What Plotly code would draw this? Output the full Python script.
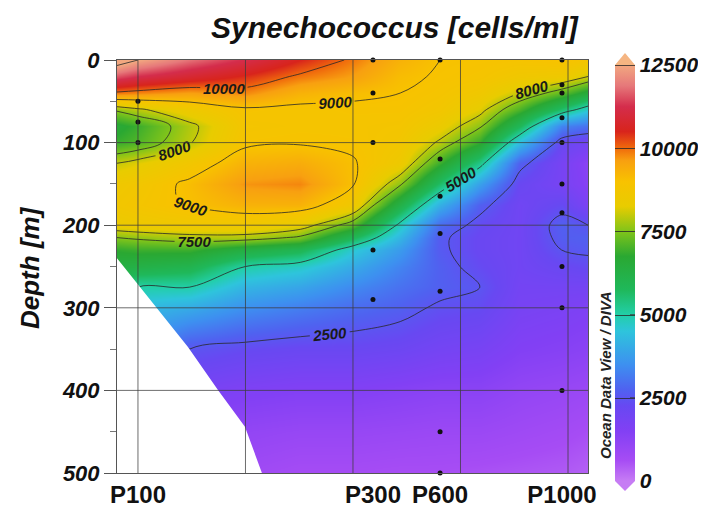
import plotly.graph_objects as go

# ---------------- data ----------------
title_text = "Synechococcus [cells/ml]"
station_names = ["P100", "P300", "P600", "P1000"]
station_dist = [100, 318.6, 381, 494.4]          # section distance (km)

# sample depths per station (black dots)
p100_depths = [50, 75, 100]
p300_depths = [0, 40, 100, 230, 290]
p600_depths = [0, 120, 165, 210, 280, 450, 500]
p1000_depths = [0, 30, 40, 70, 100, 150, 185, 250, 300, 400]

# gridded field (cells/ml) : one list per distance column, values at grid_depth
grid_dist = [80.5, 100, 148, 200, 251, 300, 344, 381, 418, 455, 494, 518.6]
grid_depth = [0, 20, 40, 60, 80, 100, 125, 150, 175, 200, 215, 230, 250, 275, 300, 350, 400, 450, 500]
col_080 = [13000, 11500, 9900, 7600, 6600, 6900, 8000, 8600, 8700, 8400, 7500, 6800, 6300, 5800, 5000, 4000, 3000, 2200, 1500]
col_100 = [12500, 11200, 9800, 7900, 6900, 7100, 8200, 8700, 8800, 8500, 7600, 6900, 6200, 5000, 4300, 3400, 2600, 2000, 1400]
col_148 = [11800, 10800, 9600, 8500, 7850, 7950, 8700, 9100, 9050, 8600, 7800, 6900, 6000, 5000, 4000, 2500, 1800, 1300, 1000]
col_200 = [11200, 10400, 9800, 8900, 8800, 8900, 9300, 9700, 9300, 8600, 7800, 6300, 5000, 4200, 3500, 2300, 1600, 1100, 800]
col_251 = [10500, 9900, 9300, 8850, 8850, 8950, 9400, 9800, 9300, 8300, 7400, 5900, 4700, 3900, 3200, 2200, 1500, 1000, 650]
col_300 = [9900, 9600, 9100, 8900, 8850, 8900, 9050, 9050, 8600, 7200, 5800, 4600, 4000, 3400, 2900, 2200, 1500, 1000, 650]
col_344 = [9300, 9100, 9000, 8900, 8800, 8700, 8500, 7600, 6200, 4800, 4200, 3700, 3300, 3000, 2700, 2100, 1400, 950, 600]
col_381 = [9000, 8950, 8850, 8700, 8400, 7900, 6900, 5600, 4100, 2900, 2600, 2600, 2700, 2700, 2400, 1900, 1300, 900, 600]
col_418 = [8950, 8850, 8600, 8200, 7600, 6800, 5300, 3800, 2700, 2300, 2200, 2200, 2300, 2500, 2300, 1800, 1300, 900, 550]
col_455 = [8900, 8600, 8000, 7000, 5800, 4300, 2700, 2200, 2000, 2000, 2000, 2000, 2000, 1900, 1800, 1500, 1100, 800, 500]
col_494 = [9000, 8500, 7200, 5500, 3300, 2200, 1800, 1800, 2300, 2700, 2650, 2500, 2200, 1900, 1700, 1400, 1000, 700, 450]
col_519 = [8800, 8000, 6500, 4600, 3000, 1900, 1300, 1400, 1700, 2500, 2700, 2600, 2300, 1900, 1600, 1300, 900, 600, 350]

# sea floor (white area, lower left)
bottom_dist = [70, 80.5, 146.5, 174.4, 199.5, 215.3, 215.3, 70]
bottom_depth = [240, 240, 347.5, 399.5, 444, 500, 520, 520]

cbar_ticks = [0, 2500, 5000, 7500, 10000, 12500]
depth_ticks = [0, 100, 200, 300, 400, 500]

# ---------------- figure ----------------
columns = [col_080, col_100, col_148, col_200, col_251, col_300, col_344,
           col_381, col_418, col_455, col_494, col_519]
z = [[col[i] for col in columns] for i in range(len(grid_depth))]

odv = [
    [0.00, "#c67cf4"], [0.05, "#a64cf4"], [0.12, "#8240f4"], [0.18, "#6848f2"],
    [0.22, "#4f62f0"], [0.28, "#3d90f0"], [0.36, "#2ec4dc"], [0.40, "#22cfa8"],
    [0.46, "#1fb85a"], [0.54, "#2aa832"], [0.60, "#80c41a"], [0.66, "#e8cc00"],
    [0.72, "#f8c200"], [0.77, "#f8a010"], [0.80, "#f06a0c"], [0.84, "#d8241c"],
    [0.90, "#d42d4c"], [0.95, "#e6787a"], [1.00, "#f2a880"],
]

FONT = "Liberation Sans, Arial, sans-serif"
# the page body has an 8px margin: the figure is sized/offset to compensate
OFF = 8
W, H = 706 - OFF, 510 - OFF
L, R, T, B = 117 - OFF, 118, 60 - OFF, 37
pw, ph = W - L - R, H - T - B

def px2x(p):          # reference page pixel -> paper x
    return (p - OFF - L) / pw

def py2y(p):          # reference page pixel -> paper y
    return (H - B - (p - OFF)) / ph

lab_font = dict(family=FONT, size=15, color="#1a1a1a", weight="bold", style="italic")
line_style = dict(color="rgba(40,40,40,0.8)", width=1, smoothing=1.0)

fig = go.Figure()

fig.add_trace(go.Contour(
    x=grid_dist, y=grid_depth, z=z,
    colorscale=odv, zmin=0, zmax=12500, zauto=False,
    autocontour=False,
    contours=dict(start=2500, end=12500, size=2500, coloring="heatmap",
                  showlabels=True, labelformat="d", labelfont=lab_font),
    line=line_style,
    colorbar=dict(
        x=px2x(615), xanchor="left", xpad=0,
        y=py2y(273), yanchor="middle", ypad=0,
        len=416, lenmode="pixels", thickness=20,
        outlinewidth=0, tickvals=cbar_ticks, tickformat="d",
        ticks="inside", ticklen=5, tickcolor="rgba(60,60,60,0.7)",
        tickfont=dict(family=FONT, size=21, color="#111",
                      weight="bold", style="italic"),
    ),
    hoverinfo="skip",
))

fig.add_trace(go.Contour(
    x=grid_dist, y=grid_depth, z=z,
    autocontour=False, showscale=False,
    contours=dict(start=8000, end=9000, size=1000, coloring="none",
                  showlabels=True, labelformat="d", labelfont=lab_font),
    line=line_style,
    hoverinfo="skip",
))

# sea floor mask
fig.add_trace(go.Scatter(
    x=bottom_dist, y=bottom_depth, mode="lines", fill="toself",
    fillcolor="white", line=dict(width=0, color="white"),
    hoverinfo="skip", showlegend=False,
))

# sample points
for name, d, depths in zip(station_names, station_dist,
                           [p100_depths, p300_depths, p600_depths, p1000_depths]):
    fig.add_trace(go.Scatter(
        x=[d] * len(depths), y=depths, mode="markers",
        marker=dict(color="#111", size=5), name=name,
        showlegend=False, hoverinfo="skip", cliponaxis=False,
    ))

# grid lines drawn above the field
shapes = []
for gx in [100, 200, 300, 400, 500]:
    shapes.append(dict(type="line", xref="x", yref="y", x0=gx, x1=gx, y0=0, y1=500,
                       line=dict(color="rgba(60,60,60,0.75)", width=1), layer="above"))
for gy in [100, 200, 300, 400]:
    shapes.append(dict(type="line", xref="x", yref="y", x0=80.5, x1=518.6, y0=gy, y1=gy,
                       line=dict(color="rgba(60,60,60,0.75)", width=1), layer="above"))
# colorbar end triangles
shapes.append(dict(type="path", xref="paper", yref="paper",
                   path=f"M {px2x(615)} {py2y(65)} L {px2x(635)} {py2y(65)} L {px2x(625)} {py2y(53)} Z",
                   fillcolor="#f5b582", line=dict(width=0)))
shapes.append(dict(type="path", xref="paper", yref="paper",
                   path=f"M {px2x(615)} {py2y(481)} L {px2x(635)} {py2y(481)} L {px2x(625)} {py2y(491)} Z",
                   fillcolor="#c67cf4", line=dict(width=0)))

fig.update_layout(
    width=W, height=H,
    margin=dict(l=L, r=R, t=T, b=B, autoexpand=False),
    paper_bgcolor="white", plot_bgcolor="white",
    showlegend=False,
    shapes=shapes,
    xaxis=dict(
        range=[80.5, 518.6], tickvals=station_dist, ticktext=station_names,
        showgrid=False, zeroline=False, ticks="", automargin=False,
        showline=True, linecolor="#555", linewidth=1, mirror=True,
        tickfont=dict(family=FONT, size=24, color="#111", weight="bold"),
    ),
    yaxis=dict(
        range=[500, 0], tickvals=depth_ticks, automargin=False,
        showgrid=False, zeroline=False,
        ticks="outside", ticklen=12, tickcolor="#555", tickwidth=1,
        minor=dict(dtick=50, tick0=0, ticks="outside", ticklen=6, tickcolor="#777", showgrid=False),
        showline=True, linecolor="#555", linewidth=1, mirror=True,
        tickfont=dict(family=FONT, size=22, color="#111", weight="bold", style="italic"),
    ),
    annotations=[
        dict(text=title_text, xref="paper", yref="paper",
             x=px2x(395), y=py2y(27), xanchor="center", yanchor="middle",
             showarrow=False,
             font=dict(family=FONT, size=30, color="#111", weight="bold", style="italic")),
        dict(text="Depth [m]", xref="paper", yref="paper",
             x=px2x(30), y=py2y(268), xanchor="center", yanchor="middle",
             textangle=-90, showarrow=False,
             font=dict(family=FONT, size=26, color="#111", weight="bold", style="italic")),
        dict(text="Ocean Data View / DIVA", xref="paper", yref="paper",
             x=px2x(605), y=py2y(375), xanchor="center", yanchor="middle",
             textangle=-90, showarrow=False,
             font=dict(family=FONT, size=15, color="#222", weight="bold", style="italic")),
    ],
)

fig.write_html("out.html")
